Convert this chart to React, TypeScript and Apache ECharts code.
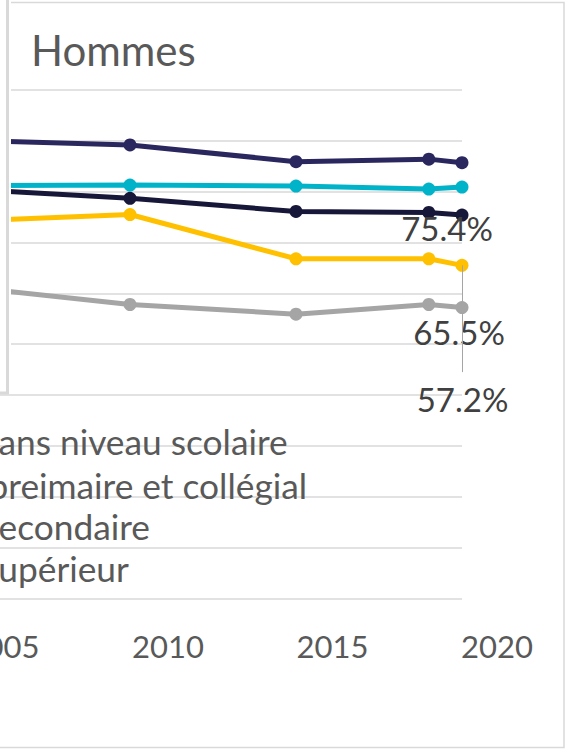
import React, { useEffect, useRef } from "react";
import * as echarts from "echarts";

// ---- data ----
const YEARS = [2004, 2009, 2014, 2018, 2019];
const X_TICKS = [2000, 2005, 2010, 2015, 2020];
const SUPERIEUR = [90.1, 89.2, 85.9, 86.4, 85.7];
const ENSEMBLE = [81.2, 81.3, 81.1, 80.5, 80.9];
const PRIMAIRE = [80.5, 78.7, 76.1, 75.9, 75.4];
const SECONDAIRE = [74.2, 75.5, 66.8, 66.8, 65.5];
const SANS_NIVEAU = [61.3, 57.8, 55.9, 57.8, 57.2];
const LEGEND_NAMES = [
  "Sans niveau scolaire",
  "preimaire et collégial",
  "Secondaire",
  "Supérieur",
];
const LEADER_END = 44.5; // value where the label guide line ends

const FONT = "Lato";
const OFF = 200; // chart is shifted left by this amount (cropped view)

// legend placement (page px): x of legend box, y of legend box
const LEGEND_LEFT = [-59, -50, -59, -59];
const LEGEND_TOP = [418.5, 462.5, 503.5, 545.5];

function build(values: number[], labelOffset?: number[]) {
  return values.map((v, i) => {
    if (labelOffset && i === values.length - 1) {
      return {
        value: [YEARS[i], v],
        label: {
          show: true,
          position: "inside",
          offset: labelOffset,
          formatter: (p: any) => p.value[1].toFixed(1) + "%",
          fontFamily: FONT,
          fontSize: 33,
          color: "#404040",
        },
      };
    }
    return [YEARS[i], v];
  });
}

function lineSeries(name: string, color: string, data: any[], extra: any = {}) {
  return {
    name,
    type: "line",
    xAxisIndex: 0,
    yAxisIndex: 0,
    data,
    symbol: "circle",
    symbolSize: 13,
    lineStyle: { color, width: 5 },
    itemStyle: { color },
    ...extra,
  };
}

export default function App() {
  const ref = useRef<HTMLDivElement>(null);
  useEffect(() => {
    const chart = echarts.init(ref.current!, null, { renderer: "svg" });
    const option: any = {
      animation: false,
      backgroundColor: "#fff",
      title: {
        text: "Hommes",
        left: OFF + 26,
        top: 24,
        textStyle: { fontFamily: FONT, fontSize: 42, fontWeight: "normal", color: "#595959" },
      },
      legend: LEGEND_NAMES.map((name, i) => ({
        data: [name],
        orient: "vertical",
        left: OFF + LEGEND_LEFT[i],
        top: LEGEND_TOP[i],
        itemWidth: 25,
        itemHeight: 40,
        textStyle: { fontFamily: FONT, fontSize: 35.3, color: "#595959" },
      })),
      grid: [
        { left: OFF - 36, right: 767 - (OFF + 462), top: 90, bottom: 750 - 598.3 },
        { left: OFF - 169.7, right: 767 - (OFF + 497), top: 597, height: 1 },
      ],
      xAxis: [
        { type: "value", gridIndex: 0, min: 2004, max: 2019, show: false },
        {
          type: "value",
          gridIndex: 1,
          min: X_TICKS[0],
          max: X_TICKS[X_TICKS.length - 1],
          interval: 5,
          axisLine: { show: false },
          axisTick: { show: false },
          splitLine: { show: false },
          axisLabel: {
            margin: 32,
            fontFamily: FONT,
            fontSize: 31,
            color: "#595959",
            formatter: (v: number) => (X_TICKS.includes(v) ? String(v) : ""),
          },
        },
      ],
      yAxis: [
        {
          type: "value",
          gridIndex: 0,
          min: 0,
          max: 100,
          interval: 10,
          axisLine: { show: false },
          axisTick: { show: false },
          axisLabel: { show: false },
          splitLine: { show: true, lineStyle: { color: "#d9d9d9", width: 1.5 } },
        },
        { type: "value", gridIndex: 1, min: 0, max: 1, show: false },
      ],
      series: [
        lineSeries("Sans niveau scolaire", "#a5a5a5", build(SANS_NIVEAU, [0.5, 91.5])),
        lineSeries("Secondaire", "#ffc000", build(SECONDAIRE, [-3, 66.5]), {
          markLine: {
            silent: true,
            symbol: "none",
            label: { show: false },
            emphasis: { disabled: true },
            lineStyle: { color: "#a5a5a5", width: 1, type: "solid" },
            data: [[{ coord: [2019, SECONDAIRE[SECONDAIRE.length - 1]] }, { coord: [2019, LEADER_END] }]],
          },
        }),
        lineSeries("Ensemble", "#00b3c9", build(ENSEMBLE)),
        lineSeries("preimaire et collégial", "#17173a", build(PRIMAIRE, [-15, 13])),
        lineSeries("Supérieur", "#2a275f", build(SUPERIEUR)),
      ],
      graphic: [
        {
          type: "rect",
          z: 0,
          shape: { x: 0, y: 2.5, width: OFF + 564, height: 745 },
          style: { fill: "none", stroke: "#d9d9d9", lineWidth: 1.5 },
        },
        {
          type: "rect",
          z: 50,
          shape: { x: -10, y: -10, width: OFF + 21, height: 403 },
          style: { fill: "#fff" },
        },
        {
          type: "rect",
          z: 51,
          shape: { x: -10, y: -10, width: OFF + 17.5, height: 403 },
          style: { fill: "none", stroke: "#d9d9d9", lineWidth: 3 },
        },
      ],
    };
    chart.setOption(option);
    return () => chart.dispose();
  }, []);
  return (
    <div
      style={{
        position: "fixed",
        left: 0,
        top: 0,
        width: 567,
        height: 750,
        overflow: "hidden",
        background: "#fff",
      }}
    >
      <div ref={ref} style={{ position: "absolute", left: -OFF, top: 0, width: 767, height: 750 }} />
    </div>
  );
}
